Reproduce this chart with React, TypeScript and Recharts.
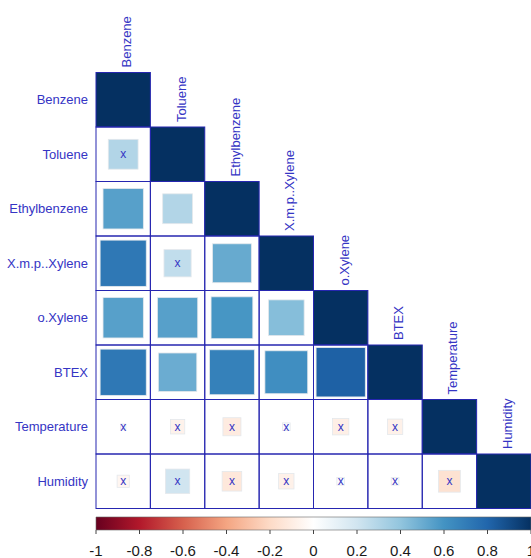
import React from 'react'
import {
  ScatterChart, Scatter, XAxis, YAxis, ReferenceArea,
} from 'recharts'

const VARS = ['Benzene', 'Toluene', 'Ethylbenzene', 'X.m.p..Xylene', 'o.Xylene', 'BTEX', 'Temperature', 'Humidity']

// lower triangle, one array per row (columns in VARS order)
const corBenzene: number[] = []
const corToluene = [0.30]
const corEthylbenzene = [0.55, 0.30]
const corXmpXylene = [0.72, 0.25, 0.51]
const corOXylene = [0.55, 0.55, 0.59, 0.43]
const corBTEX = [0.72, 0.50, 0.68, 0.62, 0.82]
const corTemperature = [0.01, -0.07, -0.11, 0.02, -0.09, -0.08]
const corHumidity = [-0.05, 0.20, -0.13, -0.08, 0.02, -0.02, -0.16]

const ROWS = [corBenzene, corToluene, corEthylbenzene, corXmpXylene, corOXylene, corBTEX, corTemperature, corHumidity]

// pairs crossed out (not significant)
const INSIGNIFICANT = [
  'Toluene|Benzene', 'X.m.p..Xylene|Toluene',
  'Temperature|Benzene', 'Temperature|Toluene', 'Temperature|Ethylbenzene', 'Temperature|X.m.p..Xylene',
  'Temperature|o.Xylene', 'Temperature|BTEX',
  'Humidity|Benzene', 'Humidity|Toluene', 'Humidity|Ethylbenzene', 'Humidity|X.m.p..Xylene',
  'Humidity|o.Xylene', 'Humidity|BTEX', 'Humidity|Temperature',
]

const LEGEND_TICKS = [-1, -0.8, -0.6, -0.4, -0.2, 0, 0.2, 0.4, 0.6, 0.8, 1]

const PALETTE = ['#67001F', '#B2182B', '#D6604D', '#F4A582', '#FDDBC7', '#FFFFFF', '#D1E5F0', '#92C5DE', '#4393C3', '#2166AC', '#053061']

const W = 531
const H = 558
const M = { top: 72.5, right: 0, bottom: 49.5, left: 0 }
const Y_AXIS_W = 96
const CELL_W = (W - Y_AXIS_W - M.right) / VARS.length
const CELL_H = (H - M.top - M.bottom) / VARS.length

const FONT = 'Liberation Sans, Arial, sans-serif'
const LABEL = '#3535c4'
const GRID = '#2626b0'

function hex(c: string) {
  return [1, 3, 5].map(i => parseInt(c.slice(i, i + 2), 16))
}

function corColor(r: number) {
  const t = ((r + 1) / 2) * (PALETTE.length - 1)
  const i = Math.min(Math.floor(t), PALETTE.length - 2)
  const f = t - i
  const a = hex(PALETTE[i]), b = hex(PALETTE[i + 1])
  const m = a.map((v, k) => Math.round(v + (b[k] - v) * f))
  return `rgb(${m[0]},${m[1]},${m[2]})`
}

const cells = VARS.flatMap((row, i) =>
  VARS.slice(0, i + 1).map((col, j) => ({
    x: j + 0.5,
    y: i + 0.5,
    r: i === j ? 1 : ROWS[i][j],
    diag: i === j,
    insig: INSIGNIFICANT.includes(`${row}|${col}`),
  }))
)

const diagonal = VARS.map((name, i) => ({ x: i + 0.5, y: i + 0.5, name }))

const legendPoints = LEGEND_TICKS.map(v => ({ v, y: 0.5 }))

function CellShape(props: any) {
  const { cx, cy, payload } = props
  const s = Math.sqrt(Math.abs(payload.r))
  const sw = CELL_W * s
  const sh = CELL_H * s
  return (
    <g>
      <rect
        x={cx - sw / 2} y={cy - sh / 2} width={sw} height={sh}
        fill={corColor(payload.r)}
        stroke={payload.diag ? 'none' : '#e4e8ec'} strokeWidth={0.8}
      />
      <rect x={cx - CELL_W / 2} y={cy - CELL_H / 2} width={CELL_W} height={CELL_H} fill="none" stroke={GRID} strokeWidth={1} />
      {payload.insig && (
        <text x={cx} y={cy} textAnchor="middle" dominantBaseline="central" fill={LABEL} fontSize={12} fontFamily={FONT}>x</text>
      )}
    </g>
  )
}

function TopLabel(props: any) {
  const { cx, cy, payload } = props
  const tx = cx + 8
  const ty = cy - CELL_H / 2 - 5
  return (
    <text x={tx} y={ty} transform={`rotate(-90, ${tx}, ${ty})`} fill={LABEL} fontSize={13} fontFamily={FONT}>
      {payload.name}
    </text>
  )
}

function CorrMatrix() {
  return (
    <ScatterChart width={W} height={H} margin={M}>
      <XAxis type="number" dataKey="x" domain={[0, VARS.length]} hide />
      <YAxis
        type="number" dataKey="y" domain={[0, VARS.length]} reversed
        width={Y_AXIS_W}
        ticks={VARS.map((_, i) => i + 0.5)}
        tickFormatter={(v: number) => VARS[Math.floor(v)]}
        interval={0}
        axisLine={false}
        tickLine={false}
        tick={{ fill: LABEL, fontSize: 13, fontFamily: FONT }}
      />
      <Scatter data={cells} shape={CellShape} isAnimationActive={false} />
      <Scatter data={diagonal} shape={TopLabel} isAnimationActive={false} />
    </ScatterChart>
  )
}

function ColorLegend() {
  return (
    <ScatterChart width={W} height={48} margin={{ top: 7, right: 0, bottom: 0, left: Y_AXIS_W }}>
      <defs>
        <linearGradient id="corGrad" x1="0" y1="0" x2="1" y2="0">
          {PALETTE.map((c, i) => (
            <stop key={i} offset={`${(i / (PALETTE.length - 1)) * 100}%`} stopColor={c} />
          ))}
        </linearGradient>
      </defs>
      <XAxis
        type="number" dataKey="v" domain={[-1, 1]}
        ticks={LEGEND_TICKS}
        interval={0}
        height={28}
        axisLine={false}
        tickSize={4}
        tickMargin={11}
        tickLine={{ stroke: '#444' }}
        tick={{ fill: '#1a1a1a', fontSize: 15, fontFamily: FONT }}
        tickFormatter={(v: number) => String(v)}
      />
      <YAxis type="number" dataKey="y" domain={[0, 1]} hide />
      <ReferenceArea x1={-1} x2={1} y1={0} y2={1} fill="url(#corGrad)" fillOpacity={1} stroke="#666" strokeWidth={0.6} ifOverflow="visible" />
      <Scatter data={legendPoints} shape={() => <g />} isAnimationActive={false} />
    </ScatterChart>
  )
}

export default function App() {
  return (
    <div style={{ position: 'absolute', left: 0, top: 0, width: W, height: H, background: '#fff', overflow: 'hidden' }}>
      <CorrMatrix />
      <div style={{ position: 'absolute', left: 0, top: 510 }}>
        <ColorLegend />
      </div>
    </div>
  )
}
